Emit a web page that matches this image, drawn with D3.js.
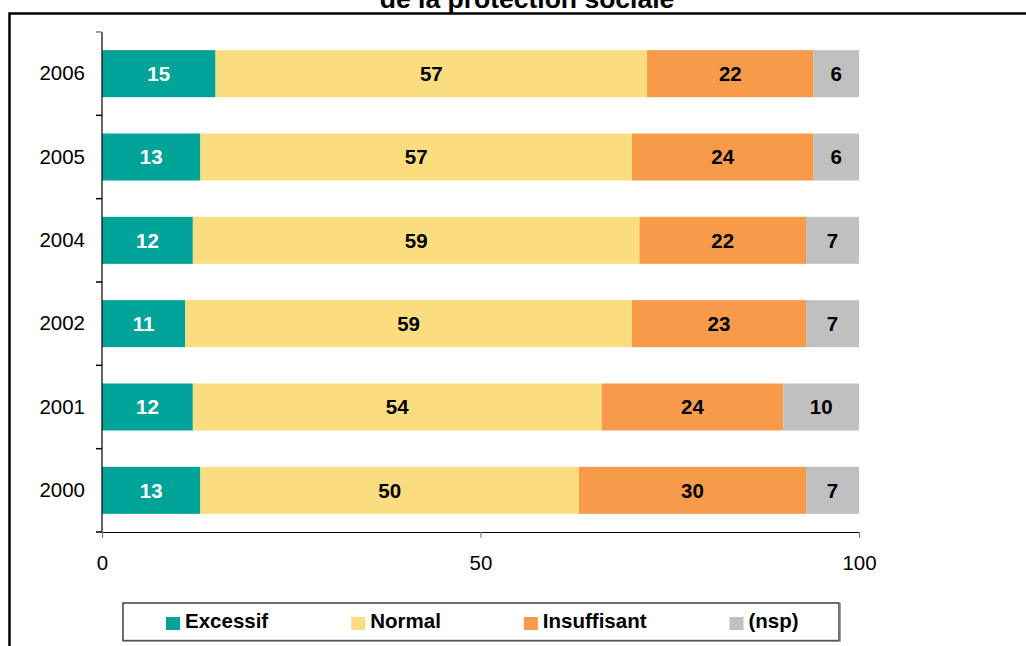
<!DOCTYPE html>
<html>
<head>
<meta charset="utf-8">
<script src="https://cdn.jsdelivr.net/npm/d3@7"></script>
<style>
  html, body { margin: 0; padding: 0; background: #fff; }
  svg { display: block; font-family: "Liberation Sans", Arial, sans-serif; }
</style>
</head>
<body>
<svg id="chart" width="1026" height="646"></svg>
<script>
// Survey years, top to bottom
const years = ["2006", "2005", "2004", "2002", "2001", "2000"];

// Share of answers (%) per year for each opinion
const excessif    = [15, 13, 12, 11, 12, 13];
const normal      = [57, 57, 59, 59, 54, 50];
const insuffisant = [22, 24, 22, 23, 24, 30];
const nsp         = [6, 6, 7, 7, 10, 7];

const seriesNames = ["Excessif", "Normal", "Insuffisant", "(nsp)"];
const seriesColors = ["#00A397", "#F9DD7E", "#F79B4A", "#C0C0C0"];
const labelColors = ["#ffffff", "#000000", "#000000", "#000000"];

const xTicks = [0, 50, 100];
const titleText = "de la protection sociale";

// Table for the stack layout
const keys = ["excessif", "normal", "insuffisant", "nsp"];
const table = years.map((year, i) => ({
  year,
  excessif: excessif[i],
  normal: normal[i],
  insuffisant: insuffisant[i],
  nsp: nsp[i]
}));

const svg = d3.select("#chart");
const font = "'Liberation Sans', Arial, sans-serif";

// Outer frame (right and bottom edges run past the page)
svg.append("rect")
  .attr("x", 9.5).attr("y", 13.5)
  .attr("width", 1200).attr("height", 800)
  .attr("fill", "none").attr("stroke", "#000").attr("stroke-width", 2.5);

// Title (second line of a two-line heading)
svg.append("text")
  .attr("x", 527).attr("y", 8)
  .attr("text-anchor", "middle")
  .attr("font-weight", "bold")
  .attr("font-size", 26.5)
  .attr("fill", "#000")
  .text(titleText);

// Scales
const x = d3.scaleLinear().domain([0, 100]).range([102, 859]);
const y = d3.scaleBand().domain(years).range([32, 532])
  .paddingInner(0.436).paddingOuter(0.218);

const stack = d3.stack().keys(keys);
const layers = stack(table);

// Bars
const g = svg.append("g");
layers.forEach((layer, k) => {
  g.selectAll(null)
    .data(layer)
    .enter().append("rect")
    .attr("x", d => x(d[0]))
    .attr("y", d => y(d.data.year))
    .attr("width", d => x(d[1]) - x(d[0]))
    .attr("height", y.bandwidth())
    .attr("fill", seriesColors[k]);

  g.selectAll(null)
    .data(layer)
    .enter().append("text")
    .attr("x", d => (x(d[0]) + x(d[1])) / 2)
    .attr("y", d => y(d.data.year) + y.bandwidth() / 2 + 7.4)
    .attr("text-anchor", "middle")
    .attr("font-weight", "bold")
    .attr("font-size", 20.5)
    .attr("fill", labelColors[k])
    .text(d => d.data[keys[k]]);
});

// X axis
const xAxis = svg.append("g")
  .attr("transform", "translate(0,532)")
  .call(d3.axisBottom(x).tickValues(xTicks).tickSize(6).tickPadding(17).tickSizeOuter(0));
xAxis.select(".domain").attr("stroke", "#000").attr("stroke-width", 1.2);
xAxis.selectAll(".tick line").attr("stroke", "#808080").attr("stroke-width", 1.2);
xAxis.selectAll(".tick text")
  .attr("font-family", font).attr("font-size", 20.5).attr("fill", "#000");

// Y axis: labels centred on bars, ticks on band boundaries
const yAxis = svg.append("g")
  .attr("transform", "translate(102,0)")
  .call(d3.axisLeft(y).tickSize(0).tickPadding(17).tickSizeOuter(0));
yAxis.select(".domain").remove();
yAxis.selectAll(".tick text")
  .attr("font-family", font).attr("font-size", 20.5).attr("fill", "#000");

const step = y.step();
const boundaries = years.map(yr => y(yr) - step * y.paddingInner() / 2)
  .concat([y(years[years.length - 1]) + y.bandwidth() + step * y.paddingInner() / 2]);

svg.append("line")
  .attr("x1", 102).attr("x2", 102)
  .attr("y1", boundaries[0]).attr("y2", boundaries[boundaries.length - 1])
  .attr("stroke", "#000").attr("stroke-width", 1.2);

svg.selectAll(null)
  .data(boundaries)
  .enter().append("line")
  .attr("x1", 96).attr("x2", 102)
  .attr("y1", d => d).attr("y2", d => d)
  .attr("stroke", (d, i) => i === 0 ? "#808080" : "#000")
  .attr("stroke-width", 1.5);

// Legend
const legend = svg.append("g");
legend.append("rect")
  .attr("x", 123).attr("y", 603)
  .attr("width", 716).attr("height", 37.5)
  .attr("fill", "#fff").attr("stroke", "#222").attr("stroke-width", 1.3);
legend.append("path")
  .attr("d", "M123,641.2 H840.2 V603")
  .attr("fill", "none").attr("stroke", "#888").attr("stroke-width", 1.2);

let cursor = 166;
seriesNames.forEach((name, k) => {
  legend.append("rect")
    .attr("x", cursor).attr("y", 617)
    .attr("width", 14).attr("height", 13)
    .attr("fill", seriesColors[k]);
  const t = legend.append("text")
    .attr("x", cursor + 19).attr("y", 628)
    .attr("font-weight", "bold")
    .attr("font-size", 20.5)
    .attr("fill", "#000")
    .text(name);
  cursor += 19 + t.node().getComputedTextLength() + 83;
});
</script>
</body>
</html>
